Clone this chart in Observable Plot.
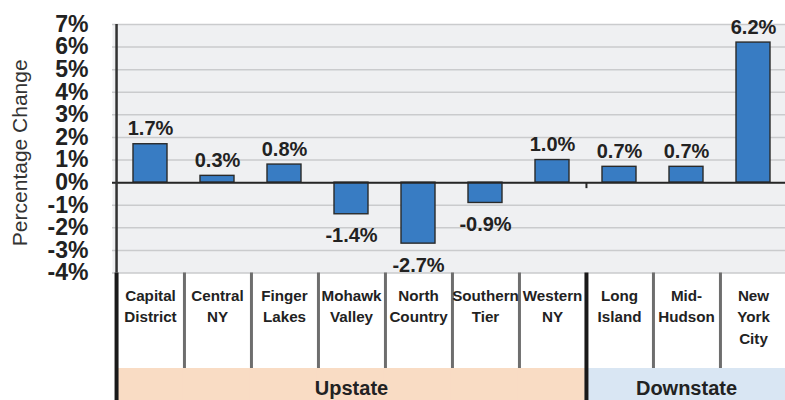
<!DOCTYPE html>
<html>
<head>
<meta charset="utf-8">
<script src="https://cdn.jsdelivr.net/npm/d3@7"></script>
<script src="https://cdn.jsdelivr.net/npm/@observablehq/plot@0.6"></script>
<style>
  html, body { margin: 0; padding: 0; background: #fff; overflow: hidden; }
  #chart svg { display: block; overflow: hidden; }
</style>
</head>
<body>
<div id="chart"></div>
<script>
// ---- data ----
const regions = ["Capital District", "Central NY", "Finger Lakes", "Mohawk Valley", "North Country",
  "Southern Tier", "Western NY", "Long Island", "Mid-Hudson", "New York City"];
const regionLabels = ["Capital\nDistrict", "Central\nNY", "Finger\nLakes", "Mohawk\nValley", "North\nCountry",
  "Southern\nTier", "Western\nNY", "Long\nIsland", "Mid-\nHudson", "New\nYork\nCity"];
const values = [1.7, 0.3, 0.8, -1.4, -2.7, -0.9, 1.0, 0.7, 0.7, 6.2];
const regionGroups = ["Upstate", "Upstate", "Upstate", "Upstate", "Upstate", "Upstate", "Upstate",
  "Downstate", "Downstate", "Downstate"];
const groupNames = ["Upstate", "Downstate"];
const groupColors = ["#f9dcc4", "#d9e6f3"];
const yTicks = [-4, -3, -2, -1, 0, 1, 2, 3, 4, 5, 6, 7];
const yTitle = "Percentage Change";

// ---- layout ----
const W = 785, H = 400;
const mL = 112, mR = -6, mT = 24, plotBottom = 272.5, labelBottom = 368;
const mB = H - plotBottom;
const plotH = plotBottom - mT;
const padInner = 0.49;
const step = (W - mL - mR) / regions.length;
const bw = step * (1 - padInner);
const gap = (step - bw) / 2;

const rows = regions.map((r, i) => ({
  region: r, label: regionLabels[i], value: values[i], group: regionGroups[i],
  color: groupColors[groupNames.indexOf(regionGroups[i])]
}));
const inner = rows.slice(0, -1).filter((d, i) => rows[i + 1].group === d.group);
const groupEdges = rows.slice(0, -1).filter((d, i) => rows[i + 1].group !== d.group);
const groupMid = groupNames.map(g => {
  const idx = rows.filter(d => d.group === g);
  return {region: idx[Math.floor(idx.length / 2)].region, name: g};
});

const sans = "'Liberation Sans', Arial, Helvetica, sans-serif";

const chart = Plot.plot({
  width: W, height: H,
  marginLeft: mL, marginRight: mR, marginTop: mT, marginBottom: mB,
  style: {fontFamily: sans, background: "#fff"},
  x: {type: "band", domain: regions, paddingInner: padInner, paddingOuter: padInner / 2, axis: null},
  y: {domain: [-4, 7], axis: null},
  marks: [
    Plot.frame({fill: "#eff0f2", stroke: null}),
    Plot.ruleY(yTicks, {stroke: "#cacbcd", strokeWidth: 1.5}),
    // group bands below the labels
    Plot.barY(rows, {x: "region", y1: -4, y2: -4, fill: "color",
      insetLeft: -gap - 0.5, insetRight: -gap - 0.5,
      insetTop: labelBottom - plotBottom, insetBottom: -(H - plotBottom)}),
    // bars
    Plot.barY(rows, {x: "region", y: "value", fill: "#387cc3", stroke: "#2a2a2a", strokeWidth: 1.4}),
    Plot.ruleY([0], {stroke: "#262626", strokeWidth: 2}),
    // left axis line
    Plot.ruleX(rows.slice(0, 1), {x: "region", dx: -step / 2, stroke: "#333", strokeWidth: 2.5}),
    Plot.ruleX(rows.slice(0, 1), {x: "region", dx: -step / 2, stroke: "#1a1a1a", strokeWidth: 4,
      insetTop: plotH, insetBottom: -(H - plotBottom)}),
    // separators between categories
    Plot.ruleX(inner, {x: "region", dx: step / 2, stroke: "#6e6e6e", strokeWidth: 3,
      insetTop: plotH, insetBottom: -(labelBottom - plotBottom)}),
    // group boundary
    Plot.ruleX(groupEdges, {x: "region", dx: step / 2, stroke: "#1a1a1a", strokeWidth: 4,
      insetTop: plotH, insetBottom: -(H - plotBottom)}),
    Plot.ruleX(groupEdges, {x: "region", dx: step / 2, y1: 0, y2: 0, insetBottom: -6,
      stroke: "#262626", strokeWidth: 2}),
    // value labels
    Plot.text(rows, {filter: d => d.value >= 0, x: "region", y: "value", text: d => d.value.toFixed(1) + "%",
      lineAnchor: "bottom", dy: -9, fontSize: 20, fontWeight: "bold", fill: "#222"}),
    Plot.text(rows, {filter: d => d.value < 0, x: "region", y: "value", text: d => d.value.toFixed(1) + "%",
      lineAnchor: "top", dy: 14, fontSize: 20, fontWeight: "bold", fill: "#222"}),
    // category labels
    Plot.text(rows, {x: "region", text: "label", frameAnchor: "bottom", lineAnchor: "top",
      dy: 12.5, lineHeight: 1.42, fontSize: 15.2, fontWeight: "bold", fill: "#222"}),
    // group labels
    Plot.text(groupMid, {x: "region", text: "name", frameAnchor: "bottom", lineAnchor: "top",
      dy: 108, fontSize: 20, fontWeight: "bold", fill: "#222"}),
    // y axis
    Plot.axisY({ticks: yTicks, tickFormat: d => d + "%", tickSize: 0, tickPadding: 24,
      fontSize: 23, fontWeight: "bold", color: "#222", label: null}),
    Plot.text([yTitle], {frameAnchor: "left", textAnchor: "middle", dx: -92, dy: 4, rotate: -90,
      fontSize: 21, fill: "#333"})
  ]
});
document.getElementById("chart").appendChild(chart);
</script>
</body>
</html>
